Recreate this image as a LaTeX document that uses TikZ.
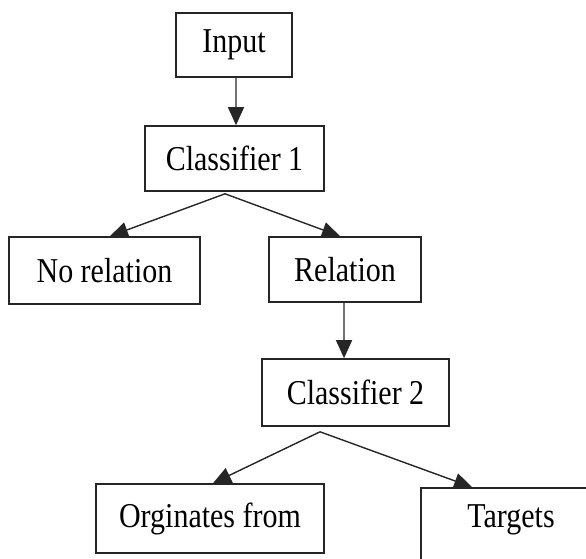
\documentclass[tikz,border=0pt]{standalone}
\usepackage{fontspec}
\setmainfont[FakeStretch=0.86]{Liberation Serif}
\usetikzlibrary{arrows.meta}

\tikzset{
  box/.style={draw=black!85, line width=1.6bp, inner sep=0pt,
    font=\fontsize{35}{40}\selectfont},
  link/.style={-{Triangle[length=18bp,width=16bp]}, line width=1.4bp, draw=black!85}
}

\begin{document}
\begin{tikzpicture}[x=1bp, y=-1bp]
    \clip (0,0) rectangle (586,559);
    \node[box, minimum width=116bp, minimum height=64bp] (inp) at (234,45) {Input};
    \node[box, minimum width=179bp, minimum height=65bp] (cl1) at ([shift={(0.5,113.5)}] inp) {Classifier 1};
    \node[box, minimum width=191bp, minimum height=67bp] (nor) at ([shift={(-130,112)}] cl1) {No relation};
    \node[box, minimum width=152bp, minimum height=65bp] (rel) at ([shift={(110.5,111)}] cl1) {Relation};
    \node[box, minimum width=187bp, minimum height=67bp] (cl2) at ([shift={(10.5,123)}] rel) {Classifier 2};
    \node[box, minimum width=228bp, minimum height=69bp] (org) at ([shift={(-145.5,126)}] cl2) {Orginates from};
    \node[box, minimum width=180bp, minimum height=78bp, text depth=22bp] (tgt) at ([shift={(155.5,134.5)}] cl2) {Targets};
    \coordinate (sp1) at ([shift={(-9.5,2)}] cl1.south);
    \coordinate (sp2) at ([shift={(-35.5,5)}] cl2.south);
    \draw [link] ([xshift=2]inp.south) to ([xshift=1.5]cl1.north);
    \draw [link] (sp1) to ([xshift=5.5]nor.north);
    \draw [link] (sp1) to ([xshift=-5]rel.north);
    \draw [link] ([xshift=-1]rel.south) to ([xshift=-11.5]cl2.north);
    \draw [link] (sp2) to ([xshift=3]org.north);
    \draw [link] (sp2) to ([xshift=-39]tgt.north);
\end{tikzpicture}
\end{document}
